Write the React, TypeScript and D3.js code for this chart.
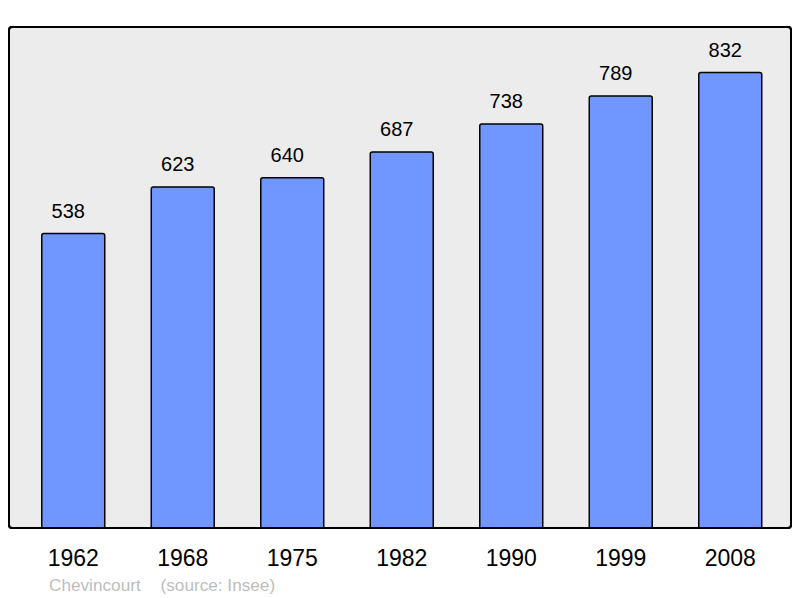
import React from "react";
import * as d3 from "d3";

const years = ["1962", "1968", "1975", "1982", "1990", "1999", "2008"];
const population = [538, 623, 640, 687, 738, 789, 832];
const townName = "Chevincourt";
const sourceLabel = "(source: Insee)";

export default function App() {
  const W = 800;
  const H = 598;
  const frame = { x: 9, y: 27, w: 782, h: 501 };
  const x = d3
    .scaleBand<string>()
    .domain(years)
    .range([18.5, 785])
    .paddingInner(0.425)
    .paddingOuter(0.2125);
  const maxV = d3.max(population) as number;
  const y = d3
    .scaleLinear()
    .domain([0, maxV * 1.1])
    .range([frame.y + frame.h, frame.y]);
  const font = "Liberation Sans, Arial, sans-serif";

  return (
    <svg
      width={W}
      height={H}
      style={{ position: "absolute", left: 0, top: 0, background: "#fff" }}
    >
      <rect
        x={frame.x}
        y={frame.y}
        width={frame.w}
        height={frame.h}
        rx={3}
        fill="#ececec"
        stroke="#000"
        strokeWidth={2}
      />
      {years.map((yr, i) => {
        const v = population[i];
        const bx = x(yr) as number;
        const bw = x.bandwidth();
        const top = y(v);
        const bottom = y(0);
        return (
          <g key={yr}>
            <path
              d={`M${bx},${bottom} L${bx},${top + 2} Q${bx},${top} ${bx + 2},${top} L${bx + bw - 2},${top} Q${bx + bw},${top} ${bx + bw},${top + 2} L${bx + bw},${bottom}`}
              fill="#7097ff"
              stroke="#000"
              strokeWidth={1.5}
            />
            <text
              x={bx + bw / 2 - 5}
              y={top - 15.7}
              textAnchor="middle"
              fontFamily={font}
              fontSize={20}
              fill="#000"
            >
              {v}
            </text>
            <text
              x={bx + bw / 2}
              y={566}
              textAnchor="middle"
              fontFamily={font}
              fontSize={23}
              fill="#000"
            >
              {yr}
            </text>
          </g>
        );
      })}
      <rect
        x={frame.x}
        y={frame.y}
        width={frame.w}
        height={frame.h}
        rx={3}
        fill="none"
        stroke="#000"
        strokeWidth={2}
      />
      <text x={49} y={590.5} fontFamily={font} fontSize={17.2} fill="#bdbdbd">
        {townName}
      </text>
      <text x={160.5} y={590.5} fontFamily={font} fontSize={17.2} fill="#bdbdbd">
        {sourceLabel}
      </text>
    </svg>
  );
}
